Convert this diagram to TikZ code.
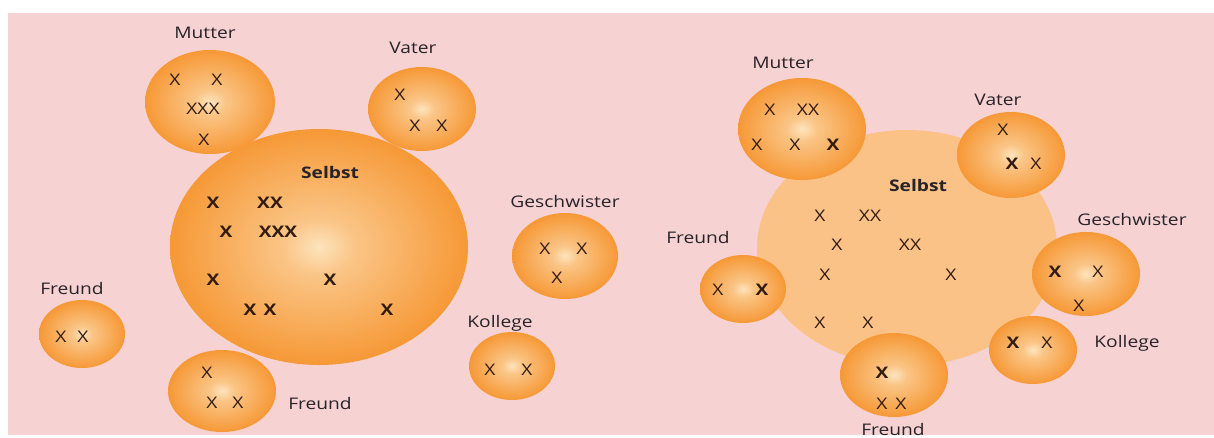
\documentclass[tikz,border=0pt]{standalone}
\usepackage{fontspec}
\setmainfont{Open Sans}[FakeStretch=1.2]
\usetikzlibrary{shapes.geometric}

\definecolor{bgpink}{RGB}{246,210,210}
\definecolor{ballhi}{RGB}{253,228,190}
\definecolor{ballmid}{RGB}{246,150,50}
\definecolor{balledge}{RGB}{236,120,20}
\definecolor{selbstpale}{RGB}{251,194,136}
\definecolor{labelgray}{RGB}{40,35,40}
\definecolor{xbrown}{RGB}{50,28,18}

\pgfdeclareradialshading{ballshade}{\pgfpoint{0bp}{0bp}}{%
  color(0bp)=(ballhi); color(6bp)=(ballhi!60!ballmid); color(26bp)=(ballmid);
  color(45bp)=(balledge); color(50bp)=(balledge)}

\tikzset{
  ball/.style={ellipse,inner sep=0pt,shade,shading=ballshade},
  lbl/.style={font=\fontsize{16}{18}\selectfont,text=labelgray,inner sep=0pt},
  xs/.style={font=\fontsize{16}{18}\selectfont,text=xbrown,inner sep=0pt},
  xb/.style={font=\fontsize{16}{18}\selectfont\bfseries,text=xbrown,inner sep=0pt}
}

\begin{document}
\begin{tikzpicture}[x=1pt,y=-1pt]
  \useasboundingbox (0,0) rectangle (1214,437);
  \fill[white] (0,0) rectangle (1214,437);
  \fill[bgpink] (8,13) rectangle (1214,435);

  % left: Selbst with its circles
  \node[ball,minimum width=298,minimum height=236] (lselbst) at (319,247) {};
  \node[ball,minimum width=130,minimum height=104] (lmutter) at (210,102) {};
  \node[ball,minimum width=108,minimum height=84] (lvater) at (422,109) {};
  \node[ball,minimum width=106,minimum height=86] (lgeschw) at (565,256) {};
  \node[ball,minimum width=86,minimum height=68] (lkollege) at (512,366) {};
  \node[ball,minimum width=86,minimum height=68] (lfreundA) at (82,334) {};
  \node[ball,minimum width=108,minimum height=82] (lfreundB) at (222,391) {};

  \node[lbl,font=\fontsize{16}{18}\selectfont\bfseries] (lselbstlbl) at (330,172) {Selbst};
  \node[lbl] (lmutterlbl) at (205,33) {Mutter};
  \node[lbl] (lvaterlbl) at (413,48) {Vater};
  \node[lbl] (lgeschwlbl) at (565,201) {Geschwister};
  \node[lbl] (lkollegelbl) at (500,323) {Kollege};
  \node[lbl] (lfreundAlbl) at (72,288) {Freund};
  \node[lbl] (lfreundBlbl) at (320,403) {Freund};

  \foreach \x/\y/\t [count=\i] in {175/80/X,217/80/X,203/109/XXX,204/140/X,
      400/95/X,415/126/X,442/126/X,545/249/X,582/249/X,557/278/X,
      490/370/X,527/370/X,61/337/X,83/337/X,207/373/X,212/403/X,238/403/X}
    \node[xs] (lx\i) at (\x,\y) {\t};
  \foreach \x/\y/\t [count=\i] in {213/203/X,270/203/XX,226/232/X,278/232/XXX,
      213/280/X,330/280/X,250/310/X,270/310/X,387/310/X}
    \node[xb] (lxb\i) at (\x,\y) {\t};

  % right: Selbst with its circles
  \node[ellipse,fill=selbstpale,inner sep=0pt,minimum width=300,minimum height=236] (rselbst) at (907,248) {};
  \node[ball,minimum width=128,minimum height=102] (rmutter) at (802,129) {};
  \node[ball,minimum width=108,minimum height=86] (rvater) at (1011,155) {};
  \node[ball,minimum width=108,minimum height=84] (rgeschw) at (1086,274) {};
  \node[ball,minimum width=88,minimum height=68] (rkollege) at (1033,350) {};
  \node[ball,minimum width=86,minimum height=68] (rfreundA) at (743,289) {};
  \node[ball,minimum width=108,minimum height=84] (rfreundB) at (894,375) {};

  \node[lbl,font=\fontsize{16}{18}\selectfont\bfseries] (rselbstlbl) at (918,185) {Selbst};
  \node[lbl] (rmutterlbl) at (783,63) {Mutter};
  \node[lbl] (rvaterlbl) at (998,100) {Vater};
  \node[lbl] (rgeschwlbl) at (1132,219) {Geschwister};
  \node[lbl] (rkollegelbl) at (1127,343) {Kollege};
  \node[lbl] (rfreundAlbl) at (698,237) {Freund};
  \node[lbl] (rfreundBlbl) at (893,429) {Freund};

  \foreach \x/\y/\t [count=\i] in {770/110/X,808/110/XX,757/145/X,795/145/X,
      1003/130/X,1036/164/X,1098/272/X,1079/306/X,1047/343/X,718/290/X,
      882/404/X,901/404/X,820/216/X,870/216/XX,837/245/X,910/245/XX,
      825/275/X,951/275/X,820/323/X,868/323/X}
    \node[xs] (rx\i) at (\x,\y) {\t};
  \foreach \x/\y [count=\i] in {833/145,1012/164,1055/272,1013/343,762/290,882/373}
    \node[xb] (rxb\i) at (\x,\y) {X};
\end{tikzpicture}
\end{document}
